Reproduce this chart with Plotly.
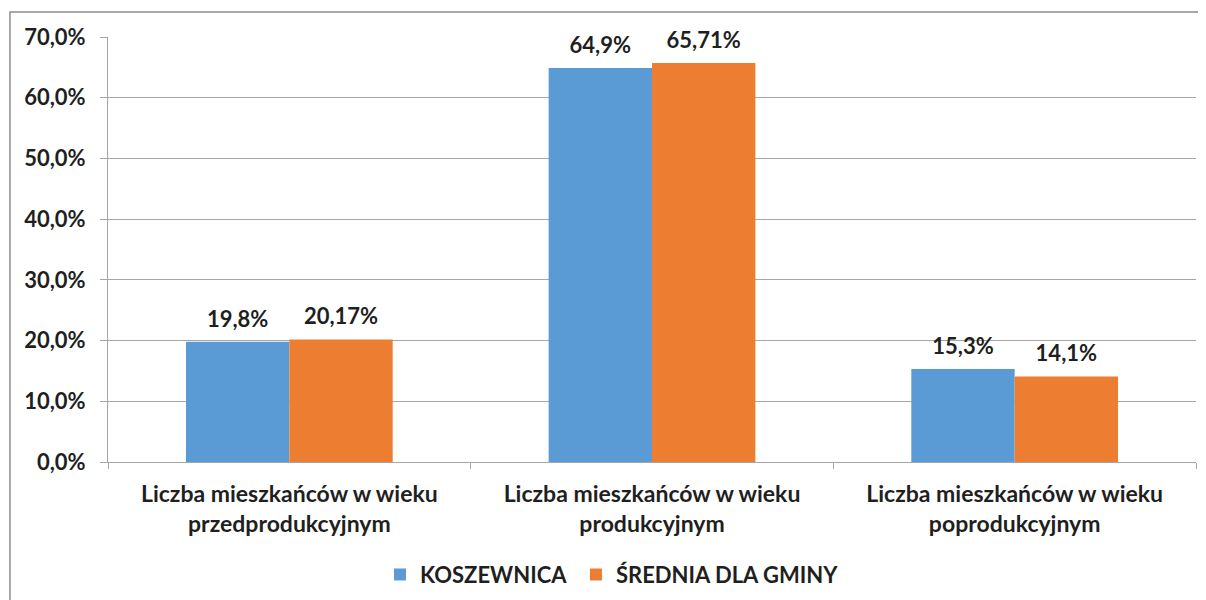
import plotly.graph_objects as go

categories = [
    "Liczba mieszkańców w wieku<br>przedprodukcyjnym",
    "Liczba mieszkańców w wieku<br>produkcyjnym",
    "Liczba mieszkańców w wieku<br>poprodukcyjnym",
]
series_names = ["KOSZEWNICA", "ŚREDNIA DLA GMINY"]
koszewnica = [19.8, 64.9, 15.3]
srednia = [20.17, 65.71, 14.1]
y_ticks = [0, 10, 20, 30, 40, 50, 60, 70]

colors = ["#5B9BD5", "#ED7D31"]
FONT = "Lato, 'Open Sans', sans-serif"
TXT = "#1f1f1f"


def lbl(v):
    return str(v).replace(".", ",") + "%"


fig = go.Figure()
legend_ids = ["legend", "legend2"]
for i, (name, vals, col) in enumerate(zip(series_names, [koszewnica, srednia], colors)):
    fig.add_trace(go.Bar(
        x=categories, y=vals, name=name, offsetgroup=str(i), legend=legend_ids[i],
        marker=dict(color=col, line=dict(width=0)),
    ))
for i, vals in enumerate([koszewnica, srednia]):
    fig.add_trace(go.Scatter(
        x=categories, y=vals, offsetgroup=str(i), mode="markers+text",
        marker=dict(size=14, opacity=0), showlegend=False, hoverinfo="skip",
        text=[lbl(v) for v in vals], textposition="top center",
        textfont=dict(family=FONT, size=22, color=TXT, weight="bold"),
        cliponaxis=False,
    ))

leg_common = dict(orientation="h", xanchor="left", y=-0.216, yanchor="top",
                  font=dict(family=FONT, size=22, color=TXT, weight="bold"),
                  itemwidth=30, bgcolor="rgba(0,0,0,0)")

# page has an 8px body margin; size the figure to the visible area
fig.update_layout(
    width=1198, height=592,
    margin=dict(l=100, r=10, t=29, b=138, autoexpand=False),
    paper_bgcolor="white", plot_bgcolor="white",
    barmode="group", bargap=0.43, bargroupgap=0,
    scattermode="group", scattergap=0.43,
    font=dict(family=FONT, size=15, color=TXT),
    showlegend=True,
    legend=dict(x=0.25, **leg_common),
    legend2=dict(x=0.4301, **leg_common),
)
fig.update_yaxes(
    range=[0, 70], tickvals=y_ticks,
    ticktext=[f"{t:.1f}".replace(".", ",") + "%" for t in y_ticks],
    showgrid=True, gridcolor="#A6A6A6", gridwidth=1,
    showline=True, linecolor="#A6A6A6", linewidth=1,
    ticks="outside", ticklen=7, tickcolor="#A6A6A6",
    ticklabelstandoff=10,
    tickfont=dict(family=FONT, size=22, color=TXT, weight="bold"),
    zeroline=False, automargin=False,
)
fig.update_xaxes(
    showline=True, linecolor="#A6A6A6", linewidth=1,
    ticks="outside", ticklen=6, tickcolor="#A6A6A6", tickson="boundaries",
    ticklabelstandoff=11,
    tickfont=dict(family=FONT, size=23, color=TXT, weight="bold"),
    automargin=False,
)
# outer chart border (cropped at right/bottom in reference)
fig.add_shape(type="rect", xref="paper", yref="paper",
              x0=-0.0901, x1=1.2, y0=-0.5, y1=1.0588,
              line=dict(color="#8C8C8C", width=1.5), fillcolor="rgba(0,0,0,0)", layer="below")

fig.write_html("out.html")
